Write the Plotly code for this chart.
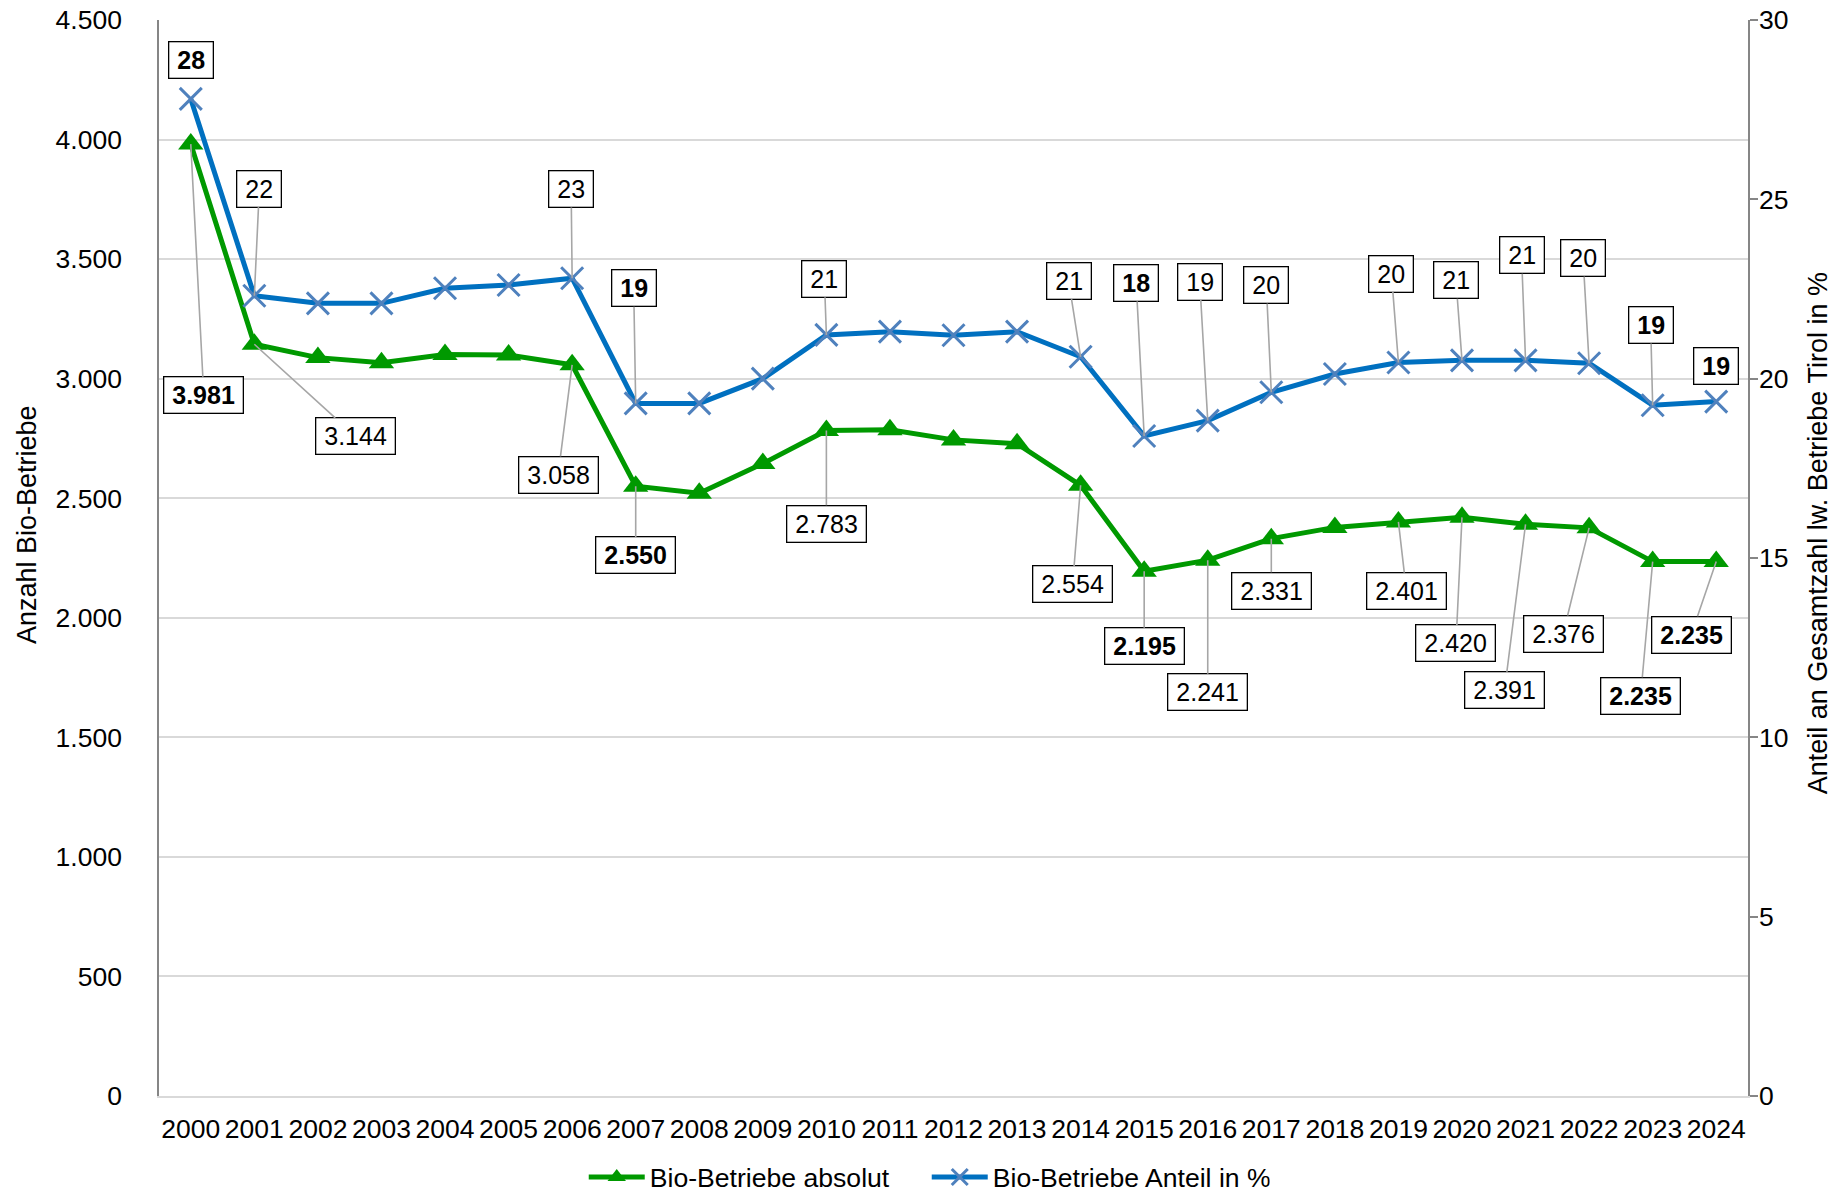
import plotly.graph_objects as go

# ---------------- data ----------------
years = [str(y) for y in range(2000, 2025)]
bio_absolut = [3981, 3144, 3088, 3067, 3101, 3099, 3058, 2550, 2521, 2645,
               2783, 2786, 2744, 2728, 2554, 2195, 2241, 2331, 2378, 2401,
               2420, 2391, 2376, 2235, 2235]
bio_anteil = [27.80, 22.31, 22.10, 22.10, 22.52, 22.61, 22.80, 19.31, 19.31, 20.00,
              21.22, 21.31, 21.21, 21.31, 20.61, 18.40, 18.83, 19.62, 20.13, 20.45,
              20.51, 20.51, 20.43, 19.26, 19.36]
left_ticks = [0, 500, 1000, 1500, 2000, 2500, 3000, 3500, 4000, 4500]
right_ticks = [0, 5, 10, 15, 20, 25, 30]

# years that carry a data label, and which are bold
labelled_abs = ["2000", "2001", "2006", "2007", "2010", "2014", "2015", "2016",
                "2017", "2019", "2020", "2021", "2022", "2023", "2024"]
labelled_pct = labelled_abs
bold_years = {"2000", "2007", "2015", "2023", "2024"}

# ---------------- label placement (pixel offsets from point) ----------------
abs_off = {"2000": (13, 251), "2001": (101, 92), "2006": (-14, 110), "2007": (0, 69),
           "2010": (0, 93), "2014": (-8, 99), "2015": (0, 75), "2016": (0, 132),
           "2017": (0, 52), "2019": (8, 69), "2020": (-6, 126), "2021": (-21, 166),
           "2022": (-26, 106), "2023": (-12, 134), "2024": (-25, 73)}
pct_off = {"2000": (0, -39), "2001": (5, -107), "2006": (-1, -89), "2007": (-2, -115),
           "2010": (-2, -56), "2014": (-12, -76), "2015": (-8, -153), "2016": (-8, -139),
           "2017": (-5, -107), "2019": (-7, -89), "2020": (-6, -80), "2021": (-4, -105),
           "2022": (-6, -105), "2023": (-2, -80), "2024": (0, -36)}
no_leader = {("pct", "2000"), ("pct", "2024")}

FONT = "Liberation Sans, Arial, sans-serif"
GREEN = "#009900"
BLUE = "#0070C0"
XBLUE = "#4F81BD"
FS = 25      # data labels
TFS = 26.5   # tick labels
AFS = 27     # axis titles
LFS = 26.6   # legend

fig = go.Figure()
fig.add_trace(go.Scatter(
    x=years, y=bio_absolut, name="Bio-Betriebe absolut", mode="lines+markers",
    line=dict(color=GREEN, width=5),
    marker=dict(symbol="triangle-up", size=22, color=GREEN),
    yaxis="y"))
fig.add_trace(go.Scatter(
    x=years, y=bio_anteil, name="Bio-Betriebe Anteil in %", mode="lines+markers",
    line=dict(color=BLUE, width=5),
    marker=dict(symbol="x-thin", size=22, color=XBLUE, line=dict(width=3, color=XBLUE)),
    yaxis="y2"))


def fmt_abs(v):
    return f"{v:,}".replace(",", ".")


def text_w(s):
    return sum(0.278 if c == "." else 0.556 for c in s) * FS


annotations = []
for kind, labelled, vals, offs, yref in [
        ("abs", labelled_abs, bio_absolut, abs_off, "y"),
        ("pct", labelled_pct, bio_anteil, pct_off, "y2")]:
    for yr in labelled:
        i = years.index(yr)
        v = vals[i]
        txt = fmt_abs(v) if kind == "abs" else str(int(round(v)))
        bold = yr in bold_years
        disp = f"<b>{txt}</b>" if bold else txt
        dx, dy = offs[yr]
        w = text_w(txt) + 10
        common = dict(x=i, y=v, xref="x", yref=yref, text=disp,
                      font=dict(family=FONT, size=FS, color="black"),
                      bgcolor="white", bordercolor="#000000", borderwidth=1.3,
                      borderpad=3, width=w, height=29, align="center")
        if (kind, yr) in no_leader:
            annotations.append(dict(showarrow=False, xshift=dx, yshift=-dy, **common))
        else:
            annotations.append(dict(showarrow=True, ax=dx, ay=dy, arrowhead=0,
                                    arrowwidth=1.6, arrowcolor="#A6A6A6",
                                    standoff=0, startstandoff=0, **common))

# axis titles as annotations (exact placement)
annotations.append(dict(text="Anzahl Bio-Betriebe", xref="paper", yref="paper",
                        x=-0.0834, y=0.531, xanchor="center", yanchor="middle",
                        textangle=-90, showarrow=False,
                        font=dict(family=FONT, size=AFS, color="black")))
annotations.append(dict(text="Anteil an Gesamtzahl lw. Betriebe Tirol in %", xref="paper",
                        yref="paper", x=1.0441, y=0.523, xanchor="center",
                        yanchor="middle", textangle=-90, showarrow=False,
                        font=dict(family=FONT, size=AFS, color="black")))

fig.update_layout(
    template="none",
    width=1842, height=1195,
    margin=dict(l=159, r=94, t=20, b=99, pad=0, autoexpand=False),
    paper_bgcolor="white", plot_bgcolor="white",
    separators=",.",
    font=dict(family=FONT, size=TFS, color="black"),
    showlegend=True,
    legend=dict(orientation="h", x=0.2673, xanchor="left", y=-0.0755, yanchor="middle",
                font=dict(family=FONT, size=LFS, color="black"),
                itemwidth=56, entrywidth=272, tracegroupgap=0,
                bgcolor="rgba(0,0,0,0)", borderwidth=0),
    xaxis=dict(type="category", range=[-0.5, 24.5], showgrid=False, automargin=False,
               showline=True, linecolor="#D9D9D9", linewidth=1.5,
               ticks="", ticklabelstandoff=8,
               tickfont=dict(family=FONT, size=TFS, color="black"),
               zeroline=False, fixedrange=True),
    yaxis=dict(range=[0, 4500], tickvals=left_ticks, separatethousands=True,
               tickformat=",d", showgrid=True, gridcolor="#D9D9D9", gridwidth=1.5,
               showline=True, linecolor="#868686", linewidth=1.5, ticks="",
               ticklabelstandoff=30, zeroline=False, automargin=False,
               tickfont=dict(family=FONT, size=TFS, color="black")),
    yaxis2=dict(range=[0, 30], tickvals=right_ticks, overlaying="y", side="right",
                showgrid=False, showline=True, linecolor="#868686", linewidth=1.5,
                ticks="outside", ticklen=8, tickcolor="#868686", tickwidth=1.5,
                ticklabelstandoff=-4, zeroline=False, automargin=False,
                tickfont=dict(family=FONT, size=TFS, color="black")),
    annotations=annotations,
)

fig.write_html("out.html", config={"displayModeBar": False},
               post_script="document.body.style.margin='0';document.body.style.overflow='hidden';")
